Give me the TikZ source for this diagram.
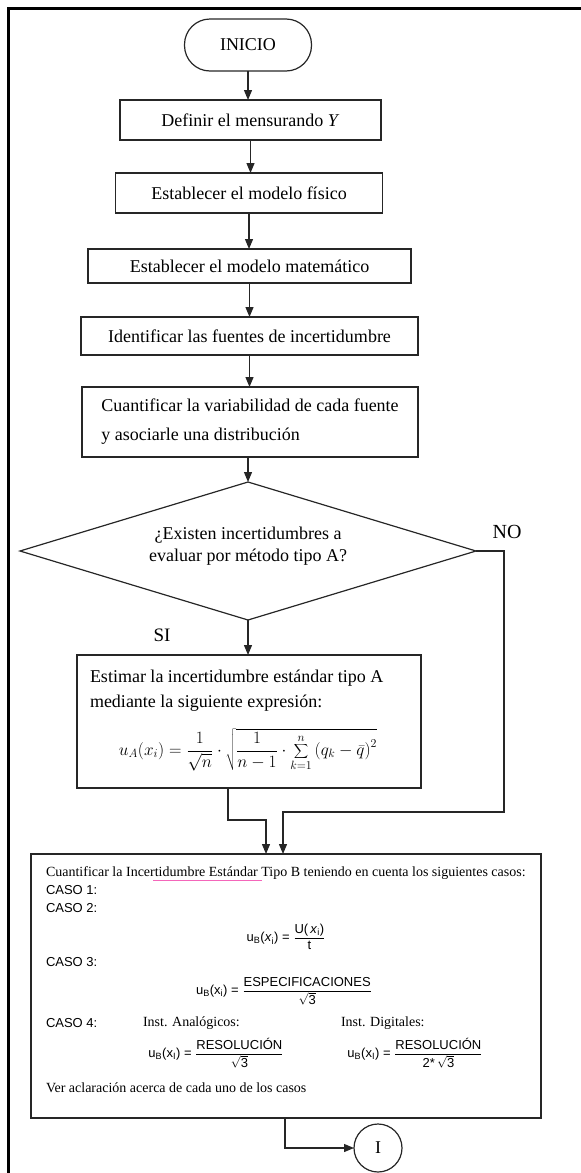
\documentclass[tikz,border=0pt]{standalone}
\usepackage{fontspec}
\setmainfont{Liberation Serif}
\newfontfamily\arialf{Liberation Sans}
\usetikzlibrary{shapes.geometric,arrows.meta,calc}
\begin{document}
\begin{tikzpicture}[x=1pt,y=-1pt,
  every node/.style={inner sep=0pt, outer sep=0pt},
  procbox/.style={draw=black!85, line width=1.2pt, rectangle, font=\fontsize{18}{22}\selectfont},
  terminal/.style={draw=black!85, line width=1.2pt, rectangle, rounded corners=25.5pt, minimum width=127pt, minimum height=52pt, font=\fontsize{18}{22}\selectfont},
  decision/.style={draw=black!85, line width=1.2pt, diamond, minimum width=456pt, minimum height=138pt},
  flowarrow/.style={draw=black!85, line width=1.2pt, -{Triangle[length=10pt,width=8pt]}},
  main/.style={font=\fontsize{18}{22}\selectfont},
  small/.style={font=\fontsize{14}{16}\selectfont},
  caso/.style={font=\arialf\fontsize{13}{15}\selectfont},
  frame/.style={draw=black, line width=3pt}
]
\useasboundingbox (0,0) rectangle (581,1173);
\clip (0,0) rectangle (581,1173);
\draw[frame] (8,1185) -- (8,8) -- (595,8);

% flow nodes
\node[terminal] (ini) at (248,45) {INICIO};
\node[procbox, minimum width=261pt, minimum height=40pt] (def) at (250.5,120) {Definir el mensurando \textit{Y}};
\node[procbox, minimum width=267pt, minimum height=40pt] (fis) at (249,193) {Establecer el modelo físico};
\node[procbox, minimum width=323pt, minimum height=34pt] (mat) at (249.5,266) {Establecer el modelo matemático};
\node[procbox, minimum width=337pt, minimum height=38pt] (ide) at (249.5,336) {Identificar las fuentes de incertidumbre};
\node[procbox, minimum width=336pt, minimum height=70pt, align=left, font=\fontsize{18}{29}\selectfont] (cua) at (250,422) {Cuantificar la variabilidad de cada fuente\\y asociarle una distribución};
\node[decision] (dia) at (248,551) {};
\node[main, align=center, font=\fontsize{18}{22}\selectfont] (diat) at (248,546) {¿Existen incertidumbres a\\evaluar por método tipo A?};
\node[main, font=\fontsize{20}{22}\selectfont] (no) at (507,532) {NO};
\node[main, font=\fontsize{19}{22}\selectfont] (si) at (162,635) {SI};

% Estimar box
\node[procbox, minimum width=344pt, minimum height=133pt] (est) at (249,721.5) {};
\node[main, anchor=west] (est1) at (90,678) {Estimar la incertidumbre estándar tipo A};
\node[main, anchor=west] (est2) at (90,703) {mediante la siguiente expresión:};
\node[font=\fontsize{17}{20}\selectfont] (estf) at (248,750) {$\displaystyle u_{A}(x_{i})=\frac{1}{\sqrt{n}}\cdot\sqrt{\frac{1}{n-1}\cdot\sum_{k=1}^{n}\left(q_{k}-\bar{q}\right)^{2}}$};

% Tipo B box
\node[procbox, minimum width=510pt, minimum height=264pt] (tb) at (286,986) {};
\node[small, anchor=west] (tb1) at (46,873) {Cuantificar la Incertidumbre Estándar Tipo B teniendo en cuenta los siguientes casos:};
\draw[magenta!60, line width=0.6pt] (153,880) -- (262,880);
\node[caso, anchor=west] (c1t) at (46,890) {CASO 1:};
\node[caso, anchor=west] (c2t) at (46,908) {CASO 2:};
\node[caso] (f1) at (286,937) {u\textsubscript{B}(\textit{x}\textsubscript{i}) = $\displaystyle\frac{\hbox{U(\,\textit{x}\textsubscript{i})}}{\hbox{t}}$};
\node[caso, anchor=west] (c3t) at (46,962) {CASO 3:};
\node[caso] (f2) at (284,991) {u\textsubscript{B}(x\textsubscript{i}) = $\displaystyle\frac{\hbox{ESPECIFICACIONES}}{\sqrt{\hbox{3}}}$};
\node[caso, anchor=west] (c4t) at (46,1023) {CASO 4:};
\node[small, anchor=west] (ana) at (143,1023) {Inst. Analógicos:};
\node[small, anchor=west] (dig) at (341,1023) {Inst. Digitales:};
\node[caso] (f3) at (216,1053) {u\textsubscript{B}(x\textsubscript{I}) = $\displaystyle\frac{\hbox{RESOLUCIÓN}}{\sqrt{\hbox{3}}}$};
\node[caso] (f4) at (415,1053) {u\textsubscript{B}(x\textsubscript{I}) = $\displaystyle\frac{\hbox{RESOLUCIÓN}}{\hbox{2*\,}\sqrt{\hbox{3}}}$};
\node[small, anchor=west] (ver) at (46,1088) {Ver aclaración acerca de cada uno de los casos};

% connector circle
\node[draw=black!85, line width=1.2pt, circle, minimum size=48pt, main] (con) at (378,1148) {I};

% connectors
\draw[flowarrow] (ini.south) -- (ini.south |- def.north);
\draw[flowarrow] (def.south) -- (def.south |- fis.north);
\draw[flowarrow] (fis.south) -- (fis.south |- mat.north);
\draw[flowarrow] (mat.south) -- (mat.south |- ide.north);
\draw[flowarrow] (ide.south) -- (ide.south |- cua.north);
\draw[flowarrow] (dia.north |- cua.south) -- (dia.north);
\draw[flowarrow] (dia.south) -- (dia.south |- est.north);
\coordinate (j1) at (228,820);
\coordinate (j2) at (266,820);
\draw[flowarrow] (est.south -| j1) -- (j1) -- (j2) -- (j2 |- tb.north);
\coordinate (n1) at (504,812);
\coordinate (n2) at (283,812);
\draw[flowarrow] (dia.east) -| (n1) -- (n2) -- (n2 |- tb.north);
\coordinate (k1) at (285,1148);
\draw[flowarrow] (tb.south -| k1) -- (k1) -- (con.west);
\end{tikzpicture}
\end{document}
